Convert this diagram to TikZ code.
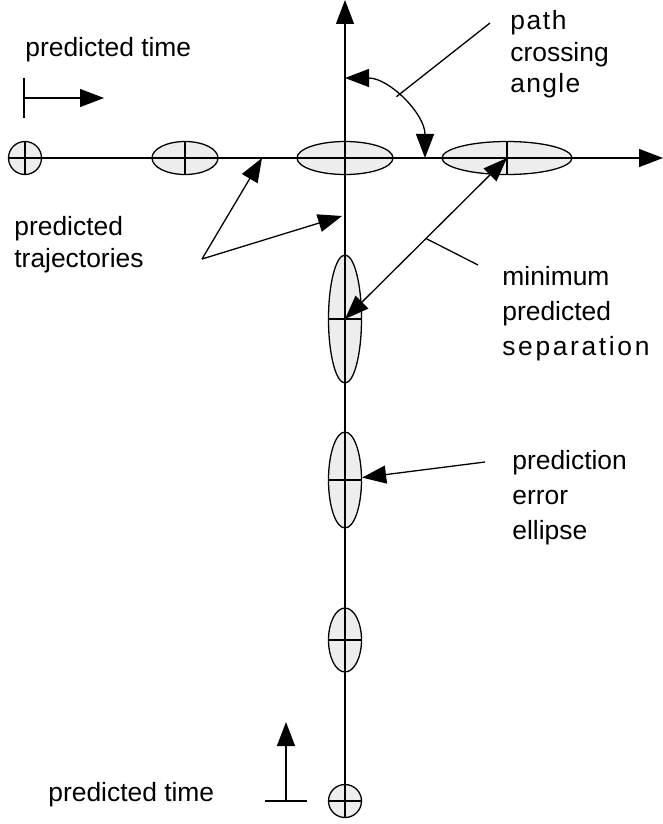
\documentclass[tikz,border=0pt]{standalone}
\usepackage{fontspec}
\setmainfont{Liberation Sans}
\usetikzlibrary{arrows.meta,shapes.geometric}
\tikzset{blob/.style={ellipse,draw,fill=black!7,inner sep=0pt,line width=0.65pt},lbl/.style={anchor=base west,align=left,inner sep=0pt,font=\fontsize{13.2}{17.5}\selectfont},plain/.style={line width=0.65pt},edge/.style={-{Triangle[length=12pt,width=9pt]},line width=0.65pt},dbl/.style={{Triangle[length=12pt,width=9pt]}-{Triangle[length=12pt,width=9pt]},line width=0.65pt}}

\begin{document}
\begin{tikzpicture}[x=0.5pt,y=-0.5pt]
\useasboundingbox (0,0) rectangle (663,824);
\node[blob,minimum width=16.5pt,minimum height=16.5pt] (h1) at (25,158) {};
\node[blob,minimum width=33pt,minimum height=16.5pt] (h2) at (185,158) {};
\node[blob,minimum width=48pt,minimum height=16.5pt] (h3) at (345,158) {};
\node[blob,minimum width=65pt,minimum height=16.5pt] (h4) at (507,158) {};
\node[blob,minimum width=16.5pt,minimum height=64pt] (v1) at (345,319) {};
\node[blob,minimum width=16.5pt,minimum height=48pt] (v2) at (345,480) {};
\node[blob,minimum width=16.5pt,minimum height=32pt] (v3) at (345,640) {};
\node[blob,minimum width=16.5pt,minimum height=16.5pt] (v4) at (345,801) {};
\coordinate (X) at (345,158);
\coordinate (top) at (345,0);
\coordinate (right) at (663,158);
\draw[edge] (v4.south) -- (top);
\draw[edge] (h1.west) -- (right);
\foreach \n in {h1,h2,h4} \draw[plain] (\n.north) -- (\n.south);
\foreach \n in {v1,v2,v3,v4} \draw[plain] (\n.west) -- (\n.east);
\coordinate (t1a) at (24,78); \coordinate (t1b) at (24,118); \coordinate (t1s) at (24,98); \coordinate (t1e) at (104,98);
\draw[plain] (t1a) -- (t1b); \draw[edge] (t1s) -- (t1e);
\coordinate (t2a) at (265,801); \coordinate (t2b) at (307,801); \coordinate (t2s) at (286,801); \coordinate (t2e) at (286,722);
\draw[plain] (t2a) -- (t2b); \draw[edge] (t2s) -- (t2e);
\draw[dbl] (X) ++(0,-80) arc[start angle=-90,end angle=0,radius=80];
\coordinate (angend) at (490,23);
\draw[plain] (X) ++(-50:80) -- (angend);
\coordinate (tv) at (202,259); \coordinate (ton) at (262,158); \coordinate (tov) at (342,216);
\draw[edge] (tv) -- (ton); \draw[edge] (tv) -- (tov);
\draw[dbl] (h4.center) -- coordinate[pos=0.5] (mid) (v1.center);
\coordinate (sepend) at (478,265);
\draw[plain] (mid) -- (sepend);
\coordinate (errstart) at (485,462);
\draw[edge] (errstart) -- (v2.8);
\node[lbl] (time1) at (25,57) {predicted time};
\node[lbl] (time2) at (48,801) {predicted time};
\node[lbl,font=\fontsize{13.2}{16}\selectfont] (angle) at (510,93) {{\addfontfeatures{LetterSpace=6}path}\\crossing\\{\addfontfeatures{LetterSpace=5}angle}};
\node[lbl,font=\fontsize{13.2}{16}\selectfont] (traj) at (14,267) {predicted\\trajectories};
\node[lbl] (sep) at (502,355) {minimum\\predicted\\{\addfontfeatures{LetterSpace=10}separation}};
\node[lbl] (err) at (512,539) {prediction\\error\\ellipse};
\end{tikzpicture}
\end{document}
